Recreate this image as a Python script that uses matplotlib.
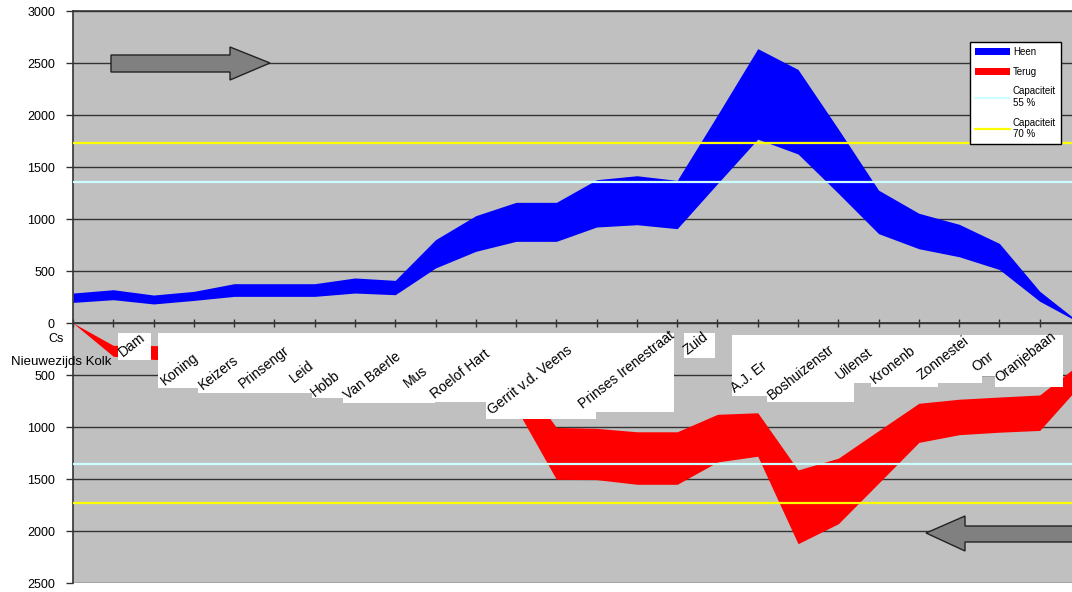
import matplotlib
matplotlib.use("Agg")
import numpy as np
import matplotlib.pyplot as plt
from matplotlib.patches import Patch, Polygon, Rectangle
from matplotlib.lines import Line2D

plt.rcParams['font.family'] = ['Liberation Sans', 'DejaVu Sans']

# reizigers per traject, band tussen laag en hoog (26 punten op de as)
heen_laag = np.array([198, 224, 183, 217, 256, 256, 256, 288, 272, 529, 689, 785, 785,
                      923, 945, 907, 1340, 1768, 1625, 1247, 859, 714, 637, 514, 209, 0])
heen_hoog = np.array([288, 320, 269, 304, 378, 378, 378, 433, 410, 801, 1032, 1160, 1160,
                      1378, 1416, 1371, 2000, 2638, 2438, 1865, 1277, 1055, 949, 765, 305, 0])
terug_laag = np.array([0, 215, 217, 230, 250, 255, 260, 270, 280, 300, 380, 470, 1004,
                       1013, 1046, 1046, 878, 863, 1413, 1300, 1035, 772, 733, 712, 692, 390])
terug_hoog = np.array([0, 320, 350, 360, 380, 385, 390, 400, 410, 450, 600, 816, 1503,
                       1506, 1551, 1551, 1336, 1281, 2122, 1930, 1540, 1148, 1074, 1050, 1033, 600])

capaciteit = 2470
cap55 = 0.55 * capaciteit
cap70 = 0.70 * capaciteit

# zichtbare stukjes van de haltenamen (rest valt weg achter het volgende vak)
halte_labels = ["Dam", "Koning", "Keizers", "Prinsengr", "Leid", "Hobb", "Van Baerle",
                "Mus", "Roelof Hart", "Gerrit v.d. Veens", "Prinses Irenestraat", "Zuid",
                "A.J. Er", "Boshuizenstr", "Uilenst", "Kronenb", "Zonnestei", "Onr",
                "Oranjebaan"]

yticks = np.arange(-2500, 3001, 500)

W, H = 1072, 592

def fx(px):
    return px / W

def fy(py):
    return 1 - py / H

fig = plt.figure(figsize=(W / 100, H / 100), dpi=100)
ax = fig.add_axes([fx(73), 9 / H, (1080 - 73) / W, (583 - 11) / H])
ax.set_facecolor('#C0C0C0')

x = np.arange(len(heen_hoog))
ax.set_xlim(0, len(x) - 1)
ax.set_ylim(-2500, 3000)

ax.yaxis.grid(True, color='#333333', lw=1)
ax.set_axisbelow(True)

ax.fill_between(x, heen_laag, heen_hoog, color='#0000FF', lw=0, zorder=2)
ax.fill_between(x, -terug_laag, -terug_hoog, color='#FF0000', lw=0, zorder=2)

for c, kleur in [(cap55, '#CCFFFF'), (cap70, '#FFFF00')]:
    ax.axhline(c, color=kleur, lw=1.6, zorder=3)
    ax.axhline(-c, color=kleur, lw=1.6, zorder=3)

ax.set_yticks(yticks)
ax.set_yticklabels([str(abs(v)) for v in yticks], fontsize=9)
ax.tick_params(axis='y', length=5, width=1, color='#333333', pad=8)

ax.spines['bottom'].set_position(('data', 0))
ax.set_xticks(x)
ax.tick_params(axis='x', direction='inout', length=6, width=1, color='#333333',
               labelbottom=False)
for s in ['left', 'bottom', 'top']:
    ax.spines[s].set_color('#333333')
    ax.spines[s].set_linewidth(1.2)
ax.spines['right'].set_visible(False)

# legenda
handles = [Patch(facecolor='#0000FF'), Patch(facecolor='#FF0000'),
           Line2D([], [], color='#CCFFFF', lw=1.6), Line2D([], [], color='#FFFF00', lw=1.6)]
leg = ax.legend(handles, ["Heen", "Terug", "Capaciteit\n55 %", "Capaciteit\n70 %"],
                loc='upper left', bbox_to_anchor=(fx(970), fy(42)),
                bbox_transform=fig.transFigure, fontsize=7, fancybox=False,
                edgecolor='black', framealpha=1, borderpad=0.5, labelspacing=1.0,
                handlelength=3.6, handletextpad=0.3, borderaxespad=0)
leg.get_frame().set_linewidth(1)
leg.set_zorder(6)

# witte vakken achter de schuine haltenamen
vakken = [(118, 333, 151, 360), (158, 333, 198, 388), (198, 333, 312, 393),
          (312, 333, 343, 398), (343, 333, 435, 403), (435, 333, 486, 402),
          (486, 333, 596, 419), (580, 333, 674, 412), (684, 333, 715, 358),
          (732, 335, 767, 396), (767, 335, 854, 402), (854, 335, 871, 383),
          (871, 335, 938, 387), (938, 335, 982, 383), (982, 335, 995, 376),
          (995, 335, 1063, 387)]
for x0, y0, x1, y1 in vakken:
    fig.add_artist(Rectangle((fx(x0), fy(y1)), (x1 - x0) / W, (y1 - y0) / H,
                             transform=fig.transFigure, facecolor='white',
                             edgecolor='none', zorder=4))

label_pos = [(123, 357), (165, 386), (203, 390), (243, 389), (294, 383), (315, 397),
             (348, 400), (408, 388), (435, 399), (492, 415), (583, 409), (687, 355),
             (735, 393), (772, 400), (840, 380), (875, 384), (922, 380), (976, 372),
             (1000, 383)]
for naam, (px, py) in zip(halte_labels, label_pos):
    fig.text(fx(px), fy(py), naam, rotation=38, rotation_mode='anchor', ha='left',
             va='baseline', fontsize=10, zorder=5)

fig.text(fx(56), fy(339), "Cs", ha='center', va='center', fontsize=9)
fig.text(fx(61), fy(362), "Nieuwezijds Kolk", ha='center', va='center', fontsize=9.5)

# richtingspijlen
pijl_rechts = [(111, 55), (230, 55), (230, 47), (270, 63), (230, 80), (230, 72), (111, 72)]
pijl_links = [(1085, 526), (965, 526), (965, 516), (926, 533), (965, 551), (965, 542),
              (1085, 542)]
for pts in [pijl_rechts, pijl_links]:
    fig.add_artist(Polygon([(fx(a), fy(b)) for a, b in pts], closed=True,
                           transform=fig.transFigure, facecolor='#808080',
                           edgecolor='#222222', lw=1, zorder=4))

fig.savefig("out.png", dpi=100)
